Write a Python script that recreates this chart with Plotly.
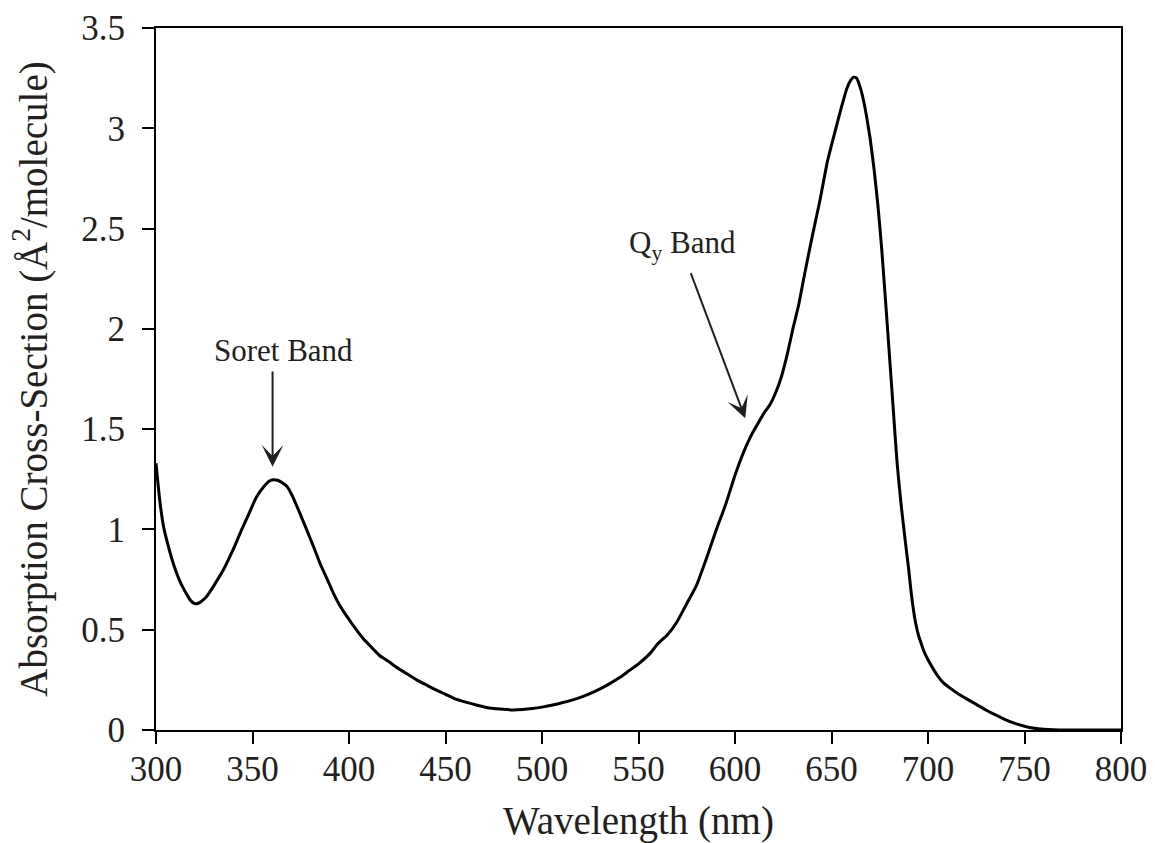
import plotly.graph_objects as go

# Wavelength (nm)
wavelength = [300, 302, 304, 306, 308, 310, 312, 314, 316, 318, 320, 322, 324, 326, 328, 330,
              335, 340, 344, 348, 352, 356, 359, 361, 363, 365, 368, 371, 375, 378, 382, 385,
              389, 392, 395, 399, 403, 407, 413, 416, 420, 425, 430, 435, 440, 445, 450, 455,
              460, 465, 470, 475, 480, 485, 490, 495, 500, 505, 510, 516, 522, 528, 534, 540,
              545, 550, 556, 560, 565, 570, 575, 580, 585, 590, 595, 600, 603, 606, 609, 612,
              615, 618, 621, 624, 627, 630, 633, 636, 640, 644, 648, 652, 655, 658, 660, 661.5,
              663, 665, 667, 668.5, 670, 672, 674, 676, 678, 680, 682, 684, 686, 688, 689, 690,
              691, 692, 693, 694, 695, 696, 698, 700, 702, 705, 708, 712, 716, 720, 725, 730,
              735, 740, 745, 750, 755, 760, 765, 770, 780, 790, 800]
# Absorption cross-section (Å^2/molecule)
cross_section = [1.33, 1.14, 1.01, 0.93, 0.86, 0.80, 0.75, 0.71, 0.675, 0.645, 0.63, 0.632, 0.645, 0.663, 0.69, 0.72,
                 0.80, 0.90, 0.99, 1.075, 1.16, 1.215, 1.243, 1.248, 1.245, 1.235, 1.213, 1.16, 1.07, 1.0, 0.905, 0.83,
                 0.745, 0.68, 0.625, 0.565, 0.51, 0.46, 0.399, 0.37, 0.345, 0.31, 0.28, 0.25, 0.225, 0.20, 0.178, 0.155,
                 0.14, 0.127, 0.115, 0.107, 0.103, 0.10, 0.102, 0.107, 0.114, 0.123, 0.135, 0.15, 0.17, 0.195, 0.225, 0.26,
                 0.295, 0.33, 0.382, 0.43, 0.475, 0.54, 0.63, 0.72, 0.85, 0.99, 1.12, 1.27, 1.35, 1.42, 1.48, 1.53,
                 1.58, 1.62, 1.68, 1.76, 1.87, 2.0, 2.12, 2.27, 2.46, 2.64, 2.84, 2.99, 3.1, 3.2, 3.24, 3.255,
                 3.25, 3.2, 3.12, 3.04, 2.95, 2.80, 2.62, 2.40, 2.14, 1.87, 1.60, 1.33, 1.13, 0.96, 0.88, 0.80,
                 0.71, 0.63, 0.565, 0.515, 0.475, 0.445, 0.39, 0.35, 0.316, 0.27, 0.235, 0.205, 0.178, 0.155, 0.128, 0.10,
                 0.075, 0.052, 0.033, 0.019, 0.009, 0.004, 0.001, 0.0, 0.0, 0.0, 0.0]

x_ticks = [300, 350, 400, 450, 500, 550, 600, 650, 700, 750, 800]
y_ticks = [0, 0.5, 1, 1.5, 2, 2.5, 3, 3.5]

# Annotations: label text, label position, arrow tail, arrow tip
band_labels = ["Soret Band", "Q<sub>y</sub> Band"]
label_xy = [(366.1, 1.894), (572.7, 2.42)]
arrow_tail = [(360.4, 1.795), (576.8, 2.285)]
arrow_tip = [(360.4, 1.313), (605.3, 1.554)]

FONT = "Liberation Serif"
TXT = "#231f20"

fig = go.Figure()
fig.add_trace(go.Scatter(x=wavelength, y=cross_section, mode="lines",
                         line=dict(color="black", width=3, shape="spline", smoothing=0.5),
                         showlegend=False, hoverinfo="skip"))

for txt, (lx, ly), (tx, ty), (hx, hy) in zip(band_labels, label_xy, arrow_tail, arrow_tip):
    fig.add_annotation(x=lx, y=ly, xref="x", yref="y", text=txt, showarrow=False,
                       font=dict(family=FONT, size=31, color=TXT), xanchor="center", yanchor="middle")
    fig.add_annotation(x=hx, y=hy, ax=tx, ay=ty, xref="x", yref="y", axref="x", ayref="y",
                       text="", showarrow=True, arrowhead=3, arrowsize=1.8, arrowwidth=2,
                       arrowcolor=TXT, standoff=0, startstandoff=0)

fig.update_layout(
    width=1155, height=843,
    margin=dict(l=156, r=34, t=28, b=113, autoexpand=False),
    paper_bgcolor="white", plot_bgcolor="white",
    font=dict(family=FONT, color=TXT),
    xaxis=dict(range=[300, 800], tickvals=x_ticks, ticktext=[str(v) for v in x_ticks],
               showline=True, linecolor="black", linewidth=2, mirror=True,
               ticks="outside", ticklen=12, tickwidth=2, tickcolor="black",
               showgrid=False, zeroline=False, tickfont=dict(family=FONT, size=35, color=TXT),
               ticklabelstandoff=-5, automargin=False,
               title=dict(text="Wavelength (nm)", font=dict(family=FONT, size=39, color=TXT), standoff=22)),
    yaxis=dict(range=[0, 3.5], tickvals=y_ticks, ticktext=[f"{v:g}" for v in y_ticks],
               showline=True, linecolor="black", linewidth=2, mirror=True,
               ticks="outside", ticklen=12, tickwidth=2, tickcolor="black",
               showgrid=False, zeroline=False, tickfont=dict(family=FONT, size=35, color=TXT),
               ticklabelstandoff=10, automargin=False,
               title=dict(text="Absorption Cross-Section (Å<sup>2</sup>/molecule)",
                          font=dict(family=FONT, size=39, color=TXT), standoff=22)),
)

fig.write_html("out.html", config={"displayModeBar": False},
               post_script="document.body.style.margin='0px';document.body.style.overflow='hidden';")
